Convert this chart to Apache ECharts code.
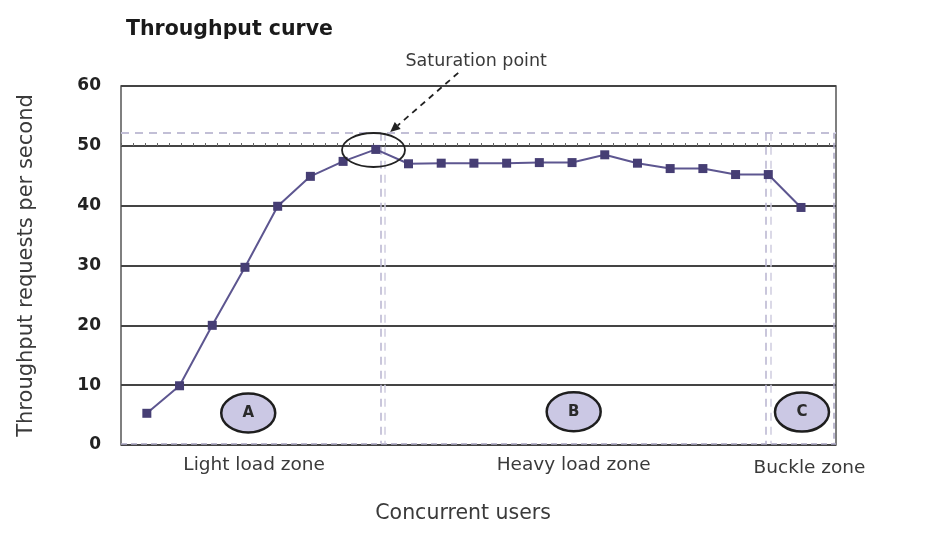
<!DOCTYPE html>
<html><head><meta charset="utf-8">
<script src="https://cdn.jsdelivr.net/npm/echarts@6/dist/echarts.min.js"></script>
<style>html,body{margin:0;padding:0;background:#fff}#c{width:934px;height:554px}</style>
</head><body><div id="c"></div>
<script>
// ---- data ----
const loadSteps = [1,2,3,4,5,6,7,8,9,10,11,12,13,14,15,16,17,18,19,20,21];
const throughput = [5.3, 9.9, 20.0, 29.7, 39.9, 44.9, 47.4, 49.4, 47.0, 47.1, 47.1, 47.1, 47.2, 47.2, 48.5, 47.1, 46.2, 46.2, 45.2, 45.2, 39.7];
const yTicks = [0, 10, 20, 30, 40, 50, 60];
const zoneLetters = ['A', 'B', 'C'];
const zoneNames = ['Light load zone', 'Heavy load zone', 'Buckle zone'];
const zoneLetterX = [4.10, 14.05, 21.03];
const zoneLetterY = [5.35, 5.55, 5.5];
const zoneNameX = [4.28, 14.05, 21.26];
const zoneBoundaryX = [8.15, 8.27, 19.93, 20.06];
const saturationLevel = 52.2;
const saturationPoint = [7.93, 49.3];
const saturationLabelPos = [11.07, 64.1];
const arrowFrom = [10.52, 62.2];
const arrowTo = [8.44, 52.3];
const xTitleX = 10.67;

const FONT = 'DejaVu Sans';
const chart = echarts.init(document.getElementById('c'), null, {renderer: 'canvas'});

const dashColor = '#c2bfd6';
const boundaryLines = zoneBoundaryX.map((x, i) => [{coord: [x, saturationLevel], lineStyle: {width: 1.5, color: i % 2 ? '#cfcde0' : '#b8b4d0'}}, {coord: [x, 0.25]}]);

chart.setOption({
  animation: false,
  backgroundColor: '#fff',
  title: {
    text: 'Throughput curve', left: 121, top: 14,
    textStyle: {fontFamily: FONT, fontWeight: 'bold', fontSize: 20.5, color: '#1a1a1a'}
  },
  grid: {left: 121, right: 98, top: 86, bottom: 109, show: true, borderColor: '#555', borderWidth: 1.5},
  xAxis: {
    type: 'value', min: 0.21, max: 22.07,
    axisLine: {show: false}, axisTick: {show: false}, axisLabel: {show: false}, splitLine: {show: false}
  },
  yAxis: {
    type: 'value', min: yTicks[0], max: yTicks[yTicks.length - 1], interval: 10,
    axisLine: {show: false}, axisTick: {show: false},
    axisLabel: {margin: 20, fontFamily: FONT, fontWeight: 'bold', fontSize: 17, color: '#222'},
    splitLine: {show: true, lineStyle: {color: '#444', width: 2}},
    name: 'Throughput requests per second', nameLocation: 'middle', nameGap: 84,
    nameTextStyle: {fontFamily: FONT, fontSize: 21, color: '#3a3a3a'}
  },
  series: [{
    type: 'line',
    data: loadSteps.map((x, i) => [x, throughput[i]]),
    symbol: 'rect', symbolSize: 9,
    lineStyle: {color: '#5d5690', width: 2},
    itemStyle: {color: '#463e74'},
    z: 5,
    markLine: {
      silent: true, symbol: ['none', 'none'], label: {show: false},
      lineStyle: {color: dashColor, type: [8, 6], width: 2},
      data: [
        [{coord: [0.21, saturationLevel]}, {coord: [22.07, saturationLevel]}],
        [{coord: [0.21, 0.25], lineStyle: {color: '#aaa6c4', width: 1.5, type: [6, 4]}}, {coord: [22.07, 0.25]}],
        [{coord: [22.0, saturationLevel], lineStyle: {color: '#aaa6c4', width: 1.5, type: [6, 4]}}, {coord: [22.0, 0.25]}],
        [{coord: [0.21, 50.25], lineStyle: {color: '#666', width: 3, type: [1, 11]}}, {coord: [22.07, 50.25]}]
      ].concat(boundaryLines)
    }
  }]
});

// ---- annotations positioned through the chart's own scales ----
const px = p => chart.convertToPixel({gridIndex: 0}, p);
const g = [];
const zeroY = px([1, 0])[1];
zoneLetters.forEach((L, i) => {
  const c = px([zoneLetterX[i], zoneLetterY[i]]);
  g.push({type: 'ellipse', z: 100, shape: {cx: c[0], cy: c[1], rx: 27, ry: 19.5},
    style: {fill: '#cbc8e4', stroke: '#1e1e1e', lineWidth: 2.5}});
  g.push({type: 'text', z: 101, x: c[0], y: c[1] + 0.5,
    style: {text: L, fill: '#2a2a2a', font: 'bold 15px ' + FONT, align: 'center', verticalAlign: 'middle'}});
});
zoneNames.forEach((n, i) => {
  const c = px([zoneNameX[i], 0]);
  g.push({type: 'text', z: 100, x: c[0], y: zeroY + (i === 2 ? 23 : 20),
    style: {text: n, fill: '#3a3a3a', font: '18.5px ' + FONT, align: 'center', verticalAlign: 'middle'}});
});
const xt = px([xTitleX, 0]);
g.push({type: 'text', z: 100, x: xt[0], y: zeroY + 69,
  style: {text: 'Concurrent users', fill: '#3a3a3a', font: '20.5px ' + FONT, align: 'center', verticalAlign: 'middle'}});
const s = px(saturationPoint);
g.push({type: 'ellipse', z: 100, shape: {cx: s[0], cy: s[1], rx: 31.5, ry: 17},
  style: {fill: 'none', stroke: '#222', lineWidth: 1.8}});
const t = px(saturationLabelPos);
g.push({type: 'text', z: 100, x: t[0], y: t[1],
  style: {text: 'Saturation point', fill: '#3a3a3a', font: '17.5px ' + FONT, align: 'center', verticalAlign: 'middle'}});
const a0 = px(arrowFrom), a1 = px(arrowTo);
const ang = Math.atan2(a1[1] - a0[1], a1[0] - a0[0]);
const hl = 10, hw = 4.5;
const bx = a1[0] - hl * Math.cos(ang), by = a1[1] - hl * Math.sin(ang);
g.push({type: 'line', z: 100, shape: {x1: a0[0], y1: a0[1], x2: bx, y2: by},
  style: {stroke: '#222', lineWidth: 1.8, lineDash: [6, 5]}});
g.push({type: 'polygon', z: 100, shape: {points: [
  [a1[0], a1[1]],
  [bx + hw * Math.sin(ang), by - hw * Math.cos(ang)],
  [bx - hw * Math.sin(ang), by + hw * Math.cos(ang)]
]}, style: {fill: '#222'}});
chart.setOption({graphic: {elements: g}});
</script>
</body></html>
